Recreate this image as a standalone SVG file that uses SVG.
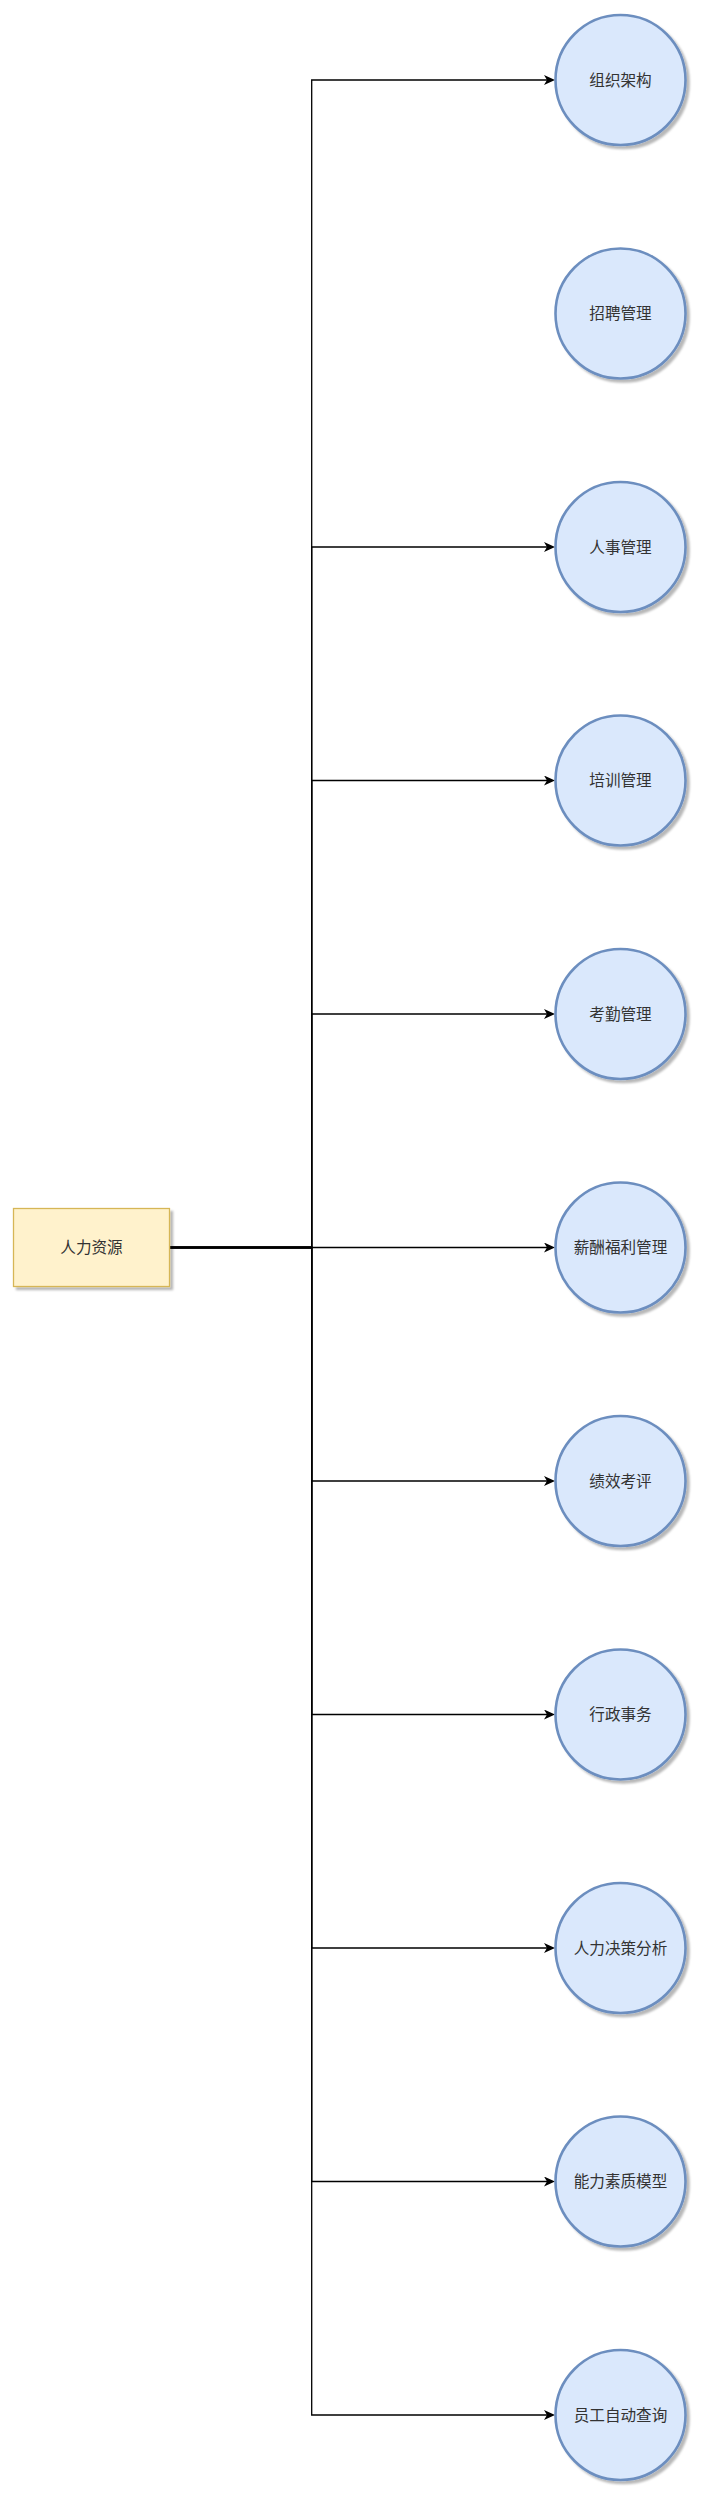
<svg xmlns="http://www.w3.org/2000/svg" width="703" height="2497" viewBox="0 0 703 2497">
<style>
.c{fill:#dae8fc;stroke:#6c8ebf;stroke-width:2.6;filter:url(#sh)}
.b{fill:#fff2cc;stroke:#d6b656;stroke-width:1.3;filter:url(#sh)}
.t{font-family:"Liberation Sans","Noto Sans CJK SC",sans-serif;font-size:15.6px;fill:#333333;text-anchor:middle;dominant-baseline:central}
.e{fill:none;stroke:#000000;stroke-width:1.3}
</style>
<defs>
<filter id="sh" x="-20%" y="-20%" width="150%" height="150%">
<feDropShadow dx="3" dy="3" stdDeviation="1.2" flood-color="#000" flood-opacity="0.28"/>
</filter>
<marker id="ar" markerUnits="userSpaceOnUse" viewBox="0 0 11 10" markerWidth="11" markerHeight="10" refX="8" refY="5" orient="auto">
<path d="M0,0 L11,5 L0,10 L3,5 Z" fill="#000"/>
</marker>
</defs>
<rect width="703" height="2497" fill="#ffffff"/>
<g id="connectors">
<path class="e" d="M169.5 1247.5 H311.7 V80 H552" marker-end="url(#ar)"/>
<path class="e" d="M169.5 1247.5 H311.7 V547 H552" marker-end="url(#ar)"/>
<path class="e" d="M169.5 1247.5 H311.7 V780.5 H552" marker-end="url(#ar)"/>
<path class="e" d="M169.5 1247.5 H311.7 V1014 H552" marker-end="url(#ar)"/>
<path class="e" d="M169.5 1247.5 H552" marker-end="url(#ar)"/>
<path class="e" d="M169.5 1247.5 H311.7 V1481 H552" marker-end="url(#ar)"/>
<path class="e" d="M169.5 1247.5 H311.7 V1714.5 H552" marker-end="url(#ar)"/>
<path class="e" d="M169.5 1247.5 H311.7 V1948 H552" marker-end="url(#ar)"/>
<path class="e" d="M169.5 1247.5 H311.7 V2181.5 H552" marker-end="url(#ar)"/>
<path class="e" d="M169.5 1247.5 H311.7 V2415 H552" marker-end="url(#ar)"/>
</g>
<g id="root"><rect class="b" x="13.5" y="1208.5" width="156" height="78"/><text class="t" x="91.5" y="1247.5">人力资源</text></g>
<g id="n1"><circle class="c" cx="620.5" cy="80" r="65"/><text class="t" x="620.5" y="80">组织架构</text></g>
<g id="n2"><circle class="c" cx="620.5" cy="313.5" r="65"/><text class="t" x="620.5" y="313.5">招聘管理</text></g>
<g id="n3"><circle class="c" cx="620.5" cy="547" r="65"/><text class="t" x="620.5" y="547">人事管理</text></g>
<g id="n4"><circle class="c" cx="620.5" cy="780.5" r="65"/><text class="t" x="620.5" y="780.5">培训管理</text></g>
<g id="n5"><circle class="c" cx="620.5" cy="1014" r="65"/><text class="t" x="620.5" y="1014">考勤管理</text></g>
<g id="n6"><circle class="c" cx="620.5" cy="1247.5" r="65"/><text class="t" x="620.5" y="1247.5">薪酬福利管理</text></g>
<g id="n7"><circle class="c" cx="620.5" cy="1481" r="65"/><text class="t" x="620.5" y="1481">绩效考评</text></g>
<g id="n8"><circle class="c" cx="620.5" cy="1714.5" r="65"/><text class="t" x="620.5" y="1714.5">行政事务</text></g>
<g id="n9"><circle class="c" cx="620.5" cy="1948" r="65"/><text class="t" x="620.5" y="1948">人力决策分析</text></g>
<g id="n10"><circle class="c" cx="620.5" cy="2181.5" r="65"/><text class="t" x="620.5" y="2181.5">能力素质模型</text></g>
<g id="n11"><circle class="c" cx="620.5" cy="2415" r="65"/><text class="t" x="620.5" y="2415">员工自动查询</text></g>
</svg>
